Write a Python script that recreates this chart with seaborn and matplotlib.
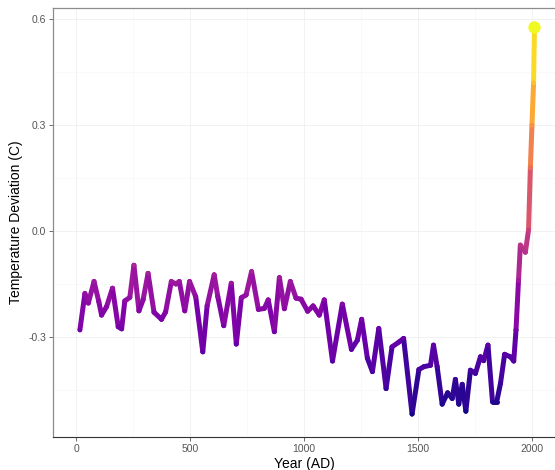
import numpy as np
import pandas as pd
import matplotlib
matplotlib.use("Agg")
import matplotlib.pyplot as plt
from matplotlib.collections import LineCollection
from matplotlib.ticker import FormatStrFormatter, MultipleLocator
import seaborn as sns

# values
years = [17, 39, 54, 79, 100, 112, 134, 160, 185, 200, 214, 236, 254, 276, 294,
         316, 342, 375, 393, 418, 438, 453, 477, 498, 525, 556, 575, 606, 622,
         648, 681, 703, 725, 746, 770, 800, 826, 843, 870, 892, 914, 940, 965,
         987, 1016, 1040, 1067, 1089, 1125, 1168, 1208, 1234, 1253, 1278, 1300,
         1328, 1360, 1386, 1417, 1437, 1474, 1504, 1526, 1555, 1568, 1584, 1606,
         1630, 1650, 1664, 1679, 1694, 1710, 1730, 1752, 1774, 1788, 1807, 1827,
         1845, 1862, 1880, 1905, 1920, 1930, 1941, 1949, 1960, 1971, 1985, 1993,
         2000, 2007, 2011]
temps = [-0.280, -0.177, -0.204, -0.143, -0.200, -0.238, -0.214, -0.162, -0.271,
         -0.277, -0.198, -0.188, -0.097, -0.226, -0.195, -0.120, -0.230, -0.250,
         -0.229, -0.143, -0.150, -0.143, -0.226, -0.143, -0.186, -0.342, -0.212,
         -0.124, -0.186, -0.268, -0.148, -0.320, -0.189, -0.181, -0.115, -0.222,
         -0.219, -0.195, -0.285, -0.132, -0.220, -0.143, -0.190, -0.193, -0.227,
         -0.212, -0.238, -0.195, -0.368, -0.207, -0.335, -0.309, -0.250, -0.360,
         -0.398, -0.276, -0.446, -0.328, -0.314, -0.304, -0.518, -0.392, -0.384,
         -0.380, -0.323, -0.384, -0.490, -0.458, -0.474, -0.420, -0.490, -0.434,
         -0.510, -0.394, -0.403, -0.356, -0.367, -0.323, -0.484, -0.484, -0.431,
         -0.349, -0.356, -0.368, -0.280, -0.139, -0.040, -0.050, -0.060, 0.003,
         0.180, 0.300, 0.420, 0.578]

x_ticks = [0, 500, 1000, 1500, 2000]
y_ticks = [-0.3, 0.0, 0.3, 0.6]

df = pd.DataFrame({"year": years, "temp": temps})

sns.set_theme(style="white")
plt.rcParams["font.family"] = ["Liberation Sans", "DejaVu Sans"]
plt.rcParams["axes.unicode_minus"] = False

fig = plt.figure(figsize=(5.55, 4.70), dpi=100)
ax = fig.add_axes([53 / 555, 33 / 470, 502 / 555, 429 / 470])

cmap = plt.get_cmap("plasma")
norm = plt.Normalize(min(temps), max(temps))

# gradient line: each segment coloured by its mean value
pts = df[["year", "temp"]].to_numpy()
segs = np.stack([pts[:-1], pts[1:]], axis=1)
mids = (pts[:-1, 1] + pts[1:, 1]) / 2
lc = LineCollection(segs, colors=cmap(norm(mids)), linewidths=3.6,
                    capstyle="round", joinstyle="round", zorder=3)
ax.add_collection(lc)

sns.scatterplot(data=df, x="year", y="temp", hue="temp", palette="plasma",
                hue_norm=norm, s=10, linewidth=0, legend=False, ax=ax, zorder=4)
sns.scatterplot(data=df.tail(1), x="year", y="temp", color=cmap(1.0), s=80,
                linewidth=0, legend=False, ax=ax, zorder=5)

ax.set_xlim(-101, 2101)
ax.set_ylim(-0.583, 0.631)
ax.set_xticks(x_ticks)
ax.set_yticks(y_ticks)
ax.xaxis.set_minor_locator(MultipleLocator(250))
ax.yaxis.set_minor_locator(MultipleLocator(0.15))
ax.yaxis.set_major_formatter(FormatStrFormatter("%.1f"))

ax.grid(which="major", color="#f0f0f0", linewidth=0.6)
ax.grid(which="minor", color="#f6f6f6", linewidth=0.4)
ax.set_axisbelow(True)

ax.tick_params(axis="both", which="major", length=3, width=0.6, color="#555555",
               labelsize=7.5, labelcolor="#555555", pad=2, left=True, bottom=True)
ax.tick_params(which="minor", length=0)

for side in ["left", "top"]:
    ax.spines[side].set_color("#8c8c8c")
    ax.spines[side].set_linewidth(0.9)
ax.spines["bottom"].set_color("#333333")
ax.spines["bottom"].set_linewidth(0.8)
ax.spines["right"].set_visible(False)

ax.set_xlabel("Year (AD)", fontsize=10, color="black", labelpad=2)
ax.set_ylabel("Temperature Deviation (C)", fontsize=10, color="black", labelpad=4)

fig.savefig("out.png", dpi=100)
